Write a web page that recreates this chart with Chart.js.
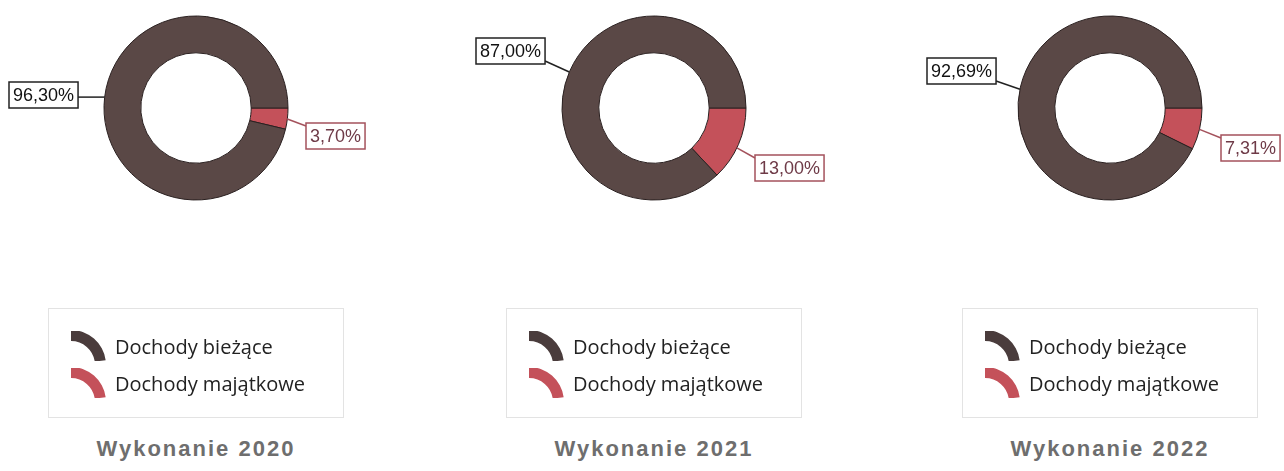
<!DOCTYPE html>
<html lang="pl">
<head>
<meta charset="utf-8">
<script src="https://cdn.jsdelivr.net/npm/chart.js@4.4.1/dist/chart.umd.min.js"></script>
<style>
  body { margin: 0; width: 1284px; height: 471px; background: #fff; position: relative; overflow: hidden; }
  canvas.donut { position: absolute; top: 0; }
  .legend { position: absolute; top: 308px; width: 296px; height: 110px; box-sizing: border-box;
            border: 1.5px solid #e3e3e3; font-family: 'Open Sans', sans-serif; font-size: 20px; color: #222; }
  .legend .row { position: absolute; left: 20px; height: 30px; display: flex; align-items: center; }
  .legend .row canvas { margin-right: 8px; }
  .title { position: absolute; top: 436px; width: 300px; text-align: center; font-family: 'Liberation Sans', Arial, sans-serif;
           font-weight: bold; font-size: 22px; letter-spacing: 2px; color: #6e6e6e; }
</style>
</head>
<body>
<script>
const categories = ['Dochody bieżące', 'Dochody majątkowe'];
const years = ['2020', '2021', '2022'];
const biezace = [96.30, 87.00, 92.69];
const majatkowe = [3.70, 13.00, 7.31];
const colors = ['#5a4846', '#c4515a'];

// where each donut sits and where its value boxes go (angle of leader on the ring, box offset from centre)
const centersX = [196, 654, 1110];
const panelW = 428;
const callouts = [
  [{ angle: 186.8, dx: -187, dy: -26 }, { angle: 6.9, dx: 110, dy: 15 }],
  [{ angle: 203, dx: -178, dy: -70 }, { angle: 25.7, dx: 101, dy: 47 }],
  [{ angle: 191.8, dx: -183, dy: -50 }, { angle: 13.4, dx: 111, dy: 27 }]
];
const labelStyle = [
  { border: '#222222', text: '#111111' },
  { border: '#a4525c', text: '#6e3a47' }
];

const fmt = (v) => v.toFixed(2).replace('.', ',') + '%';

const calloutPlugin = {
  id: 'callouts',
  afterDatasetsDraw(chart, args, opts) {
    const ctx = chart.ctx;
    const meta = chart.getDatasetMeta(0);
    const values = chart.data.datasets[0].data;
    ctx.save();
    ctx.font = '18px "Liberation Sans", Arial, sans-serif';
    ctx.textBaseline = 'middle';
    opts.items.forEach((item, k) => {
      // dataset order is [majątkowe, bieżące]
      const idx = k === 0 ? 1 : 0;
      const arc = meta.data[idx];
      const { x: cx, y: cy, outerRadius } = arc.getProps(['x', 'y', 'outerRadius'], true);
      const a = item.angle * Math.PI / 180;
      const ax = cx + outerRadius * Math.cos(a);
      const ay = cy + outerRadius * Math.sin(a);
      const text = fmt(values[idx]);
      const w = ctx.measureText(text).width + 8;
      const h = 26;
      const bx = cx + item.dx;
      const by = cy + item.dy;
      const onRight = item.dx > 0;
      const ex = onRight ? bx : bx + w;
      const ey = Math.min(Math.max(ay, by + 3), by + h - 3);
      const st = labelStyle[k];
      ctx.strokeStyle = st.border;
      ctx.lineWidth = 1.5;
      ctx.beginPath();
      ctx.moveTo(ax, ay);
      ctx.lineTo(ex, ey);
      ctx.stroke();
      ctx.fillStyle = '#fff';
      ctx.fillRect(bx, by, w, h);
      ctx.strokeRect(bx, by, w, h);
      ctx.fillStyle = st.text;
      ctx.textAlign = 'left';
      ctx.fillText(text, bx + 4, by + h / 2 + 1);
    });
    ctx.restore();
  }
};

function drawIcon(canvas, color) {
  const c = canvas.getContext('2d');
  c.fillStyle = color;
  c.beginPath();
  c.arc(2, 34, 35, -Math.PI / 2, -8 * Math.PI / 180);
  c.arc(2, 34, 24, -8 * Math.PI / 180, -Math.PI / 2, true);
  c.closePath();
  c.fill();
}

years.forEach((year, i) => {
  const c = centersX[i] - i * panelW;
  const canvas = document.createElement('canvas');
  canvas.className = 'donut';
  canvas.width = panelW;
  canvas.height = 216;
  canvas.style.left = (i * panelW) + 'px';
  canvas.style.width = panelW + 'px';
  canvas.style.height = '216px';
  document.body.appendChild(canvas);

  new Chart(canvas, {
    type: 'doughnut',
    data: {
      labels: [categories[1], categories[0]],
      datasets: [{
        data: [majatkowe[i], biezace[i]],
        backgroundColor: [colors[1], colors[0]],
        borderColor: '#2a2020',
        borderWidth: 1
      }]
    },
    options: {
      responsive: false,
      animation: false,
      rotation: 90,
      radius: 92,
      cutout: '60%',
      layout: {
        padding: { left: Math.max(0, 2 * c - panelW), right: Math.max(0, panelW - 2 * c) }
      },
      plugins: {
        legend: { display: false },
        tooltip: { enabled: false },
        callouts: { items: callouts[i] }
      }
    },
    plugins: [calloutPlugin]
  });

  const legend = document.createElement('div');
  legend.className = 'legend';
  legend.style.left = (centersX[i] - 148) + 'px';
  categories.forEach((name, k) => {
    const row = document.createElement('div');
    row.className = 'row';
    row.style.top = (22 + k * 37) + 'px';
    const icon = document.createElement('canvas');
    icon.width = 38;
    icon.height = 30;
    drawIcon(icon, k === 0 ? '#4a3c3c' : colors[1]);
    const span = document.createElement('span');
    span.textContent = name;
    row.appendChild(icon);
    row.appendChild(span);
    legend.appendChild(row);
  });
  document.body.appendChild(legend);

  const title = document.createElement('div');
  title.className = 'title';
  title.style.left = (centersX[i] - 150) + 'px';
  title.textContent = 'Wykonanie ' + year;
  document.body.appendChild(title);
});
</script>
</body>
</html>
